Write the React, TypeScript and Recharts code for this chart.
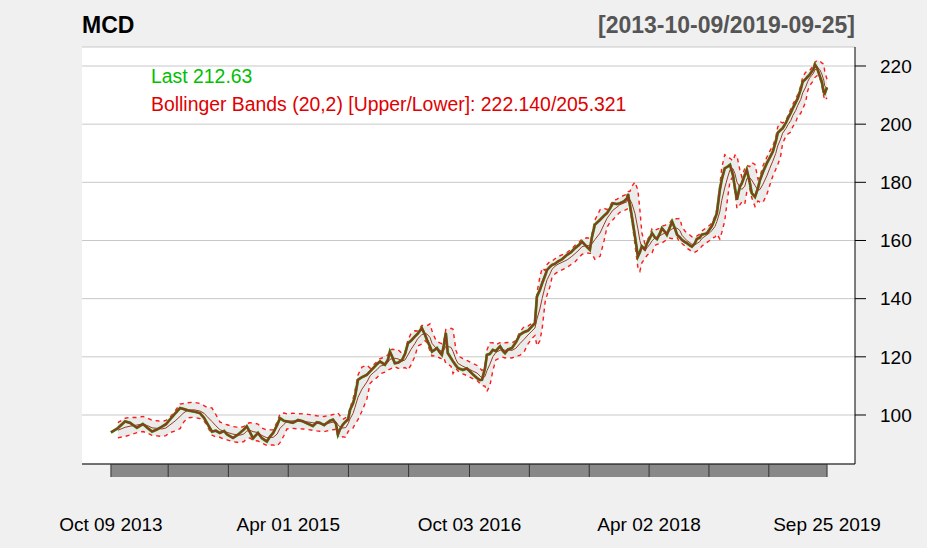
import React from 'react';
import {
  ComposedChart, Line, Area, XAxis, YAxis, CartesianGrid, ReferenceArea,
} from 'recharts';

// calendar days since 2013-10-09
const DAYS = [
  0, 21, 43, 58, 79, 97, 112, 125, 140, 155, 167, 179, 195, 210, 222, 234, 252, 271, 283, 292,
  307, 319, 331, 344, 353, 371, 383, 392, 404, 413, 423, 432, 447, 459, 474, 483, 493, 505, 514, 526,
  535, 553, 569, 584, 599, 614, 626, 635, 648, 657, 666, 675, 684, 690, 696, 705, 714, 721, 727, 736,
  742, 751, 763, 778, 788, 797, 809, 818, 833, 842, 848, 857, 863, 873, 885, 894, 903, 912, 924, 933,
  945, 955, 961, 970, 976, 985, 991, 1000, 1006, 1012, 1018, 1024, 1034, 1040, 1049, 1055, 1070, 1082, 1091, 1100,
  1113, 1122, 1128, 1137, 1143, 1152, 1161, 1170, 1183, 1192, 1198, 1207, 1219, 1231, 1243, 1256, 1268, 1280, 1289, 1295,
  1304, 1311, 1320, 1326, 1335, 1341, 1350, 1359, 1371, 1387, 1399, 1411, 1423, 1432, 1447, 1456, 1462, 1471, 1487, 1499,
  1508, 1517, 1526, 1538, 1547, 1560, 1569, 1572, 1578, 1584, 1593, 1602, 1608, 1614, 1623, 1630, 1639, 1645, 1654, 1660,
  1669, 1675, 1684, 1690, 1699, 1706, 1715, 1721, 1730, 1736, 1745, 1751, 1760, 1766, 1775, 1781, 1790, 1796, 1806, 1812,
  1821, 1827, 1836, 1842, 1851, 1857, 1866, 1876, 1882, 1891, 1897, 1903, 1912, 1918, 1927, 1933, 1942, 1948, 1958, 1967,
  1973, 1982, 1994, 2003, 2012, 2021, 2027, 2036, 2042, 2052, 2058, 2067, 2073, 2082, 2088, 2097, 2103, 2112, 2118, 2124,
  2130, 2136, 2140, 2146, 2149, 2155, 2161, 2167, 2170, 2177,
];

const CLOSE = [
  94.0, 95.5, 97.8, 97.3, 95.6, 96.9, 95.5, 94.3, 95.0, 96.0, 96.8, 98.4, 100.5, 102.4, 102.0, 101.6, 101.2, 100.6, 99.0, 97.2,
  94.3, 94.6, 93.8, 94.5, 93.3, 92.1, 93.0, 93.8, 95.0, 96.1, 94.0, 92.0, 93.8, 92.0, 90.9, 92.5, 93.8, 96.5, 98.9, 98.0,
  97.8, 97.3, 98.3, 97.8, 97.0, 96.2, 97.5, 97.3, 96.5, 97.3, 98.0, 98.4, 97.0, 93.3, 95.0, 96.7, 97.8, 98.5, 101.8, 104.0,
  106.4, 112.1, 113.0, 113.8, 115.0, 116.1, 117.5, 118.4, 117.3, 119.0, 121.8, 119.5, 117.8, 118.0, 118.9, 121.0, 124.7, 125.5, 127.0, 128.0,
  129.9, 127.5, 125.8, 123.5, 121.8, 122.5, 123.0, 121.5, 120.7, 124.0, 128.2, 121.3, 119.5, 118.4, 117.0, 116.1, 115.5, 116.0, 115.0, 114.0,
  112.7, 112.0, 112.1, 116.0, 120.7, 121.0, 122.4, 122.0, 123.6, 122.0, 121.3, 122.5, 123.0, 125.0, 127.6, 128.5, 129.0, 130.5, 131.6, 140.7,
  143.0, 145.3, 148.0, 149.9, 151.0, 151.6, 152.0, 152.8, 153.5, 155.1, 156.0, 157.4, 158.5, 159.6, 157.8, 156.8, 161.0, 165.4, 167.1, 168.5,
  169.4, 171.0, 172.8, 172.5, 172.8, 173.5, 174.5, 176.0, 172.0, 168.0, 161.4, 154.5, 156.0, 158.0, 157.0, 159.1, 161.0, 162.5, 161.0, 160.5,
  162.5, 164.2, 163.0, 162.0, 164.5, 166.5, 164.0, 162.0, 161.0, 160.2, 159.5, 159.1, 158.3, 157.9, 159.0, 160.5, 161.0, 162.0, 162.3, 162.5,
  164.0, 165.0, 167.5, 169.4, 177.4, 181.0, 184.8, 185.5, 186.0, 182.5, 178.0, 174.0, 178.5, 179.7, 182.5, 184.3, 180.0, 176.3, 175.0, 178.0,
  180.8, 183.5, 186.6, 188.5, 190.5, 194.0, 197.0, 198.0, 198.6, 200.5, 202.0, 204.0, 205.5, 207.5, 208.9, 212.0, 214.6, 215.5, 216.3, 217.0,
  218.0, 219.0, 220.5, 219.5, 218.5, 216.5, 214.6, 211.0, 210.6, 212.63,
];

const TICK_DAYS = [0, 174, 357, 539, 722, 905, 1090, 1272, 1454, 1636, 1818, 2000, 2177];
const TICK_LABELS = ['Oct 09 2013', '', '', 'Apr 01 2015', '', '', 'Oct 03 2016', '', '', 'Apr 02 2018', '', '', 'Sep 25 2019'];
const Y_TICKS = [100, 120, 140, 160, 180, 200, 220];

const SYMBOL = 'MCD';
const RANGE_LABEL = '[2013-10-09/2019-09-25]';
const LAST_LABEL = 'Last 212.63';
const BB_LABEL = 'Bollinger Bands (20,2) [Upper/Lower]: 222.140/205.321';

const N = 4; // points in the rolling window (~20 trading days)
const K = 2;

const data = DAYS.map((day, i) => {
  const row: any = { day, close: CLOSE[i] };
  if (i >= 1) {
    const win = CLOSE.slice(Math.max(0, i - N + 1), i + 1);
    const mean = win.reduce((a, b) => a + b, 0) / win.length;
    const sd = Math.sqrt(win.reduce((a, b) => a + (b - mean) * (b - mean), 0) / win.length);
    const w = Math.max(sd, 1.3);
    row.mid = mean;
    row.upper = mean + K * w;
    row.lower = mean - K * w;
    row.band = [row.lower, row.upper];
  }
  return row;
});

const FONT = '"Liberation Sans", Arial, sans-serif';
const Y_DOMAIN: [number, number] = [83.15, 226.53];
const X_DOMAIN: [number, number] = [-88, 2262];
const BAR_BOTTOM = 78.7;

const XTick = ({ x, y, index }: any) => (
  <text x={x} y={y + 54} textAnchor="middle" fontSize={19} fontFamily={FONT} fill="#000">
    {TICK_LABELS[index]}
  </text>
);

export default function App() {
  return (
    <div style={{ position: 'absolute', left: 0, top: 0, width: 927, height: 548, background: '#f0f0f0' }}>
      <ComposedChart
        width={927}
        height={548}
        data={data}
        margin={{ top: 47, right: 12, left: 82, bottom: 24 }}
      >
        <CartesianGrid yAxisId="price" vertical={false} stroke="#c8c8c8" fill="#ffffff" />
        <XAxis
          type="number"
          dataKey="day"
          domain={X_DOMAIN}
          ticks={TICK_DAYS}
          interval={0}
          allowDataOverflow
          height={60}
          tickSize={13}
          tickMargin={0}
          tickLine={{ stroke: '#333' }}
          axisLine={{ stroke: '#000' }}
          tick={<XTick />}
        />
        <XAxis xAxisId="top" type="number" dataKey="day" orientation="top" domain={X_DOMAIN} allowDataOverflow height={0} tick={false} tickLine={false} axisLine={{ stroke: '#000' }} />
        <YAxis yAxisId="left" orientation="left" domain={Y_DOMAIN} allowDataOverflow width={0} tick={false} tickLine={false} axisLine={{ stroke: '#000' }} />
        <YAxis
          yAxisId="price"
          orientation="right"
          domain={Y_DOMAIN}
          allowDataOverflow
          ticks={Y_TICKS}
          width={60}
          tickSize={11}
          tickMargin={14}
          tickLine={{ stroke: '#000' }}
          axisLine={{ stroke: '#000' }}
          tick={{ fontSize: 19, fontFamily: FONT, fill: '#000', textAnchor: 'start' }}
        />
        <ReferenceArea
          yAxisId="price"
          x1={TICK_DAYS[0]}
          x2={TICK_DAYS[TICK_DAYS.length - 1]}
          y1={BAR_BOTTOM}
          y2={Y_DOMAIN[0]}
          ifOverflow="visible"
          fill="#888888"
          fillOpacity={1}
          stroke="none"
        />
        <Area yAxisId="price" dataKey="band" stroke="none" fill="#ebebeb" fillOpacity={1} isAnimationActive={false} />
        <Line yAxisId="price" dataKey="upper" stroke="#ff1a1a" strokeWidth={1.4} strokeDasharray="4 4" dot={false} isAnimationActive={false} />
        <Line yAxisId="price" dataKey="lower" stroke="#ff1a1a" strokeWidth={1.4} strokeDasharray="4 4" dot={false} isAnimationActive={false} />
        <Line key="green" yAxisId="price" dataKey="close" stroke="#00cc00" strokeWidth={2.8} dot={false} isAnimationActive={false} />
        <Line yAxisId="price" dataKey="mid" stroke="#9a3b26" strokeWidth={1} dot={false} isAnimationActive={false} />
        <Line key="brown" yAxisId="price" dataKey="close" stroke="#8e3a22" strokeWidth={2.2} dot={false} isAnimationActive={false} />
      </ComposedChart>
      <svg width={927} height={548} style={{ position: 'absolute', left: 0, top: 0, pointerEvents: 'none' }}>
        <text x={82} y={33} fontSize={23} fontWeight="bold" fontFamily={FONT} fill="#000">{SYMBOL}</text>
        <text x={855} y={33} fontSize={23} fontWeight="bold" fontFamily={FONT} fill="#555" textAnchor="end">{RANGE_LABEL}</text>
        <text x={151} y={83} fontSize={19.4} fontFamily={FONT} fill="#00c000">{LAST_LABEL}</text>
        <text x={151} y={111} fontSize={19.4} fontFamily={FONT} fill="#e00000">{BB_LABEL}</text>
      </svg>
    </div>
  );
}
